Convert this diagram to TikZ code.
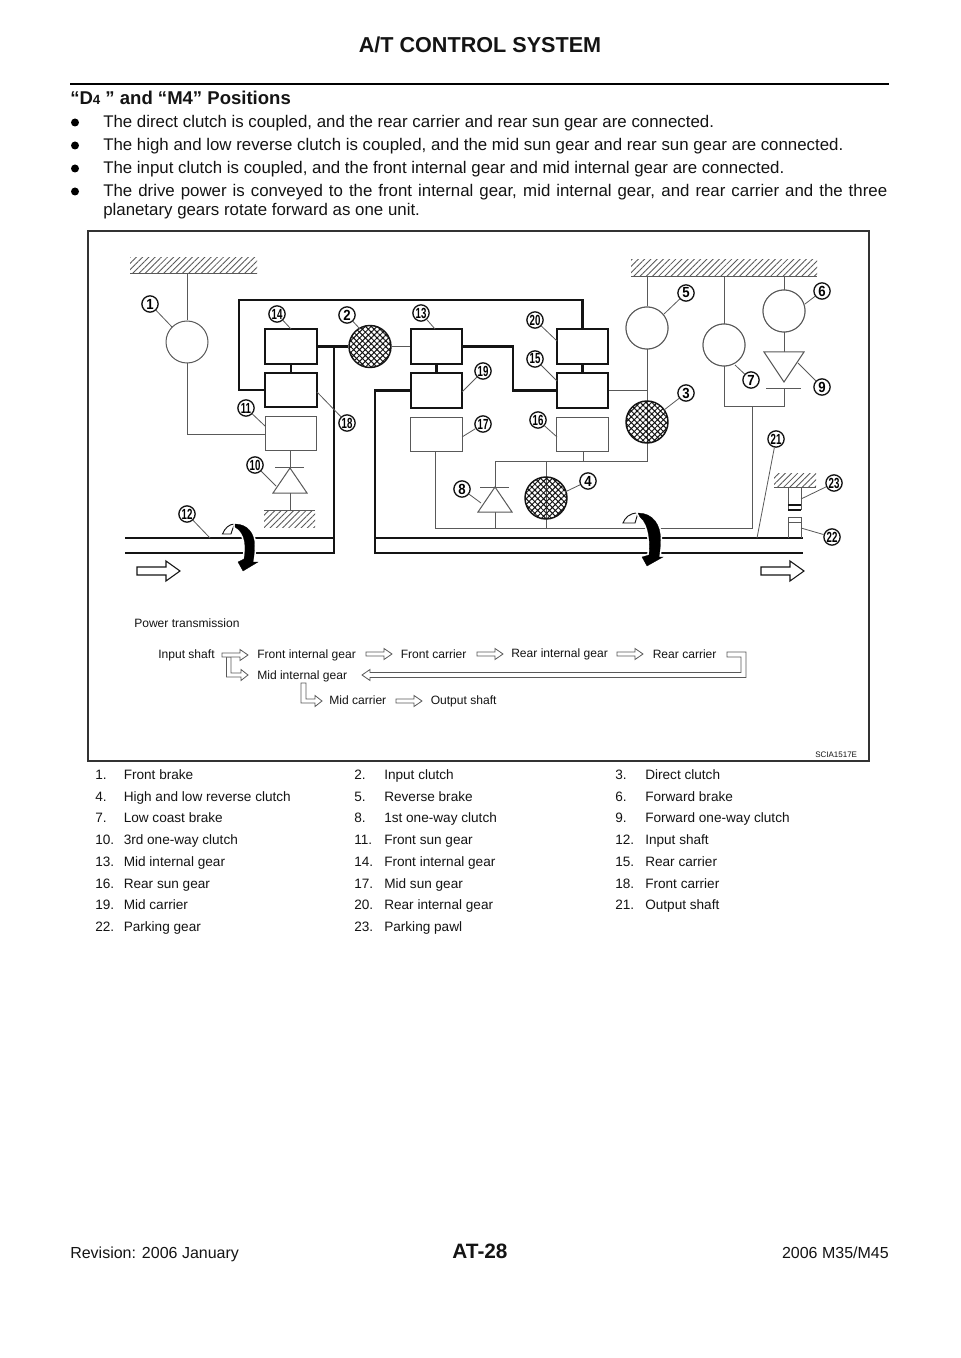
\documentclass[tikz,border=0pt]{standalone}
\usepackage{fontspec}
\setmainfont{Liberation Sans}
\usetikzlibrary{patterns.meta}
\definecolor{thin}{gray}{0.35}
\definecolor{ink}{gray}{0.08}
\definecolor{framegray}{gray}{0.2}
\newcommand{\sz}[1]{\fontsize{#1}{#1}\selectfont}
\tikzset{
  px/.style={x=0.75pt,y=-0.75pt},
  fine/.style={draw=thin,line width=0.75pt},
  heavy/.style={draw=ink,line width=1.65pt},
  shaft/.style={draw=ink,line width=1.9pt},
  gearbox/.style={heavy,fill=white,rectangle,minimum width=38.5pt,minimum height=26pt,inner sep=0pt},
  sunbox/.style={fine,fill=white,rectangle,minimum width=38.5pt,minimum height=26pt,inner sep=0pt},
  brake/.style={fine,fill=white,circle,minimum size=31.5pt,inner sep=0pt},
  clutch/.style={circle,draw=ink,line width=1.1pt,minimum size=31.5pt,inner sep=0pt,
     pattern={Hatch[angle=45,distance=3.1pt,line width=0.75pt]},pattern color=ink},
  ground/.style={pattern={Lines[angle=45,distance=3.3pt,line width=0.65pt]},pattern color=thin},
  tag/.style={circle,draw=ink,line width=1pt,fill=white,minimum size=12.2pt,inner sep=0pt,font=\bfseries\sz{11pt}},
  leader/.style={draw=thin,line width=0.6pt},
  flow/.style={draw=thin,line width=0.6pt,fill=white},
  txt/.style={anchor=base west,inner sep=0pt,text=ink},
  dia/.style={txt,font=\sz{9.05pt}},
  row/.style={txt,font=\sz{10.2pt}},
  para/.style={txt,font=\sz{12.64pt}},
  turn/.style={fill=black,draw=black,line width=0.2pt,preaction={draw=white,line width=2.6pt}},
  curl/.style={draw=ink,line width=0.7pt,fill=white},
}
% a numbered tag with its leader line to a named free end
\newcommand{\tagto}[5]{%
  \coordinate (e#1) at (#4,#5);
  \node[tag] (t#1) at (#2,#3) {\ifnum#1>9 \scalebox{0.66}[1]{#1}\else\scalebox{0.9}[1]{#1}\fi};
  \draw[leader] (t#1) -- (e#1);}
% flow arrow
\newcommand{\flowarrow}[4]{% name, x0, x1, y
  \path[flow] (#2,#4-2) -- (#3-8,#4-2) -- (#3-8,#4-5.5) -- (#3,#4) -- (#3-8,#4+5.5) -- (#3-8,#4+2) -- (#2,#4+2) -- cycle;}
% big arrow
\newcommand{\bigarrow}[3]{% x0, x1, y
  \path[draw=ink,line width=0.8pt,fill=white] (#1,#3-4) -- (#2-14,#3-4) -- (#2-14,#3-10) -- (#2,#3) -- (#2-14,#3+10) -- (#2-14,#3+4) -- (#1,#3+4) -- cycle;}
\begin{document}
\begin{tikzpicture}[px]
\useasboundingbox (0,0) rectangle (960,1358);
\fill[white] (0,0) rectangle (960,1358);
% page head
\node[anchor=base,inner sep=0pt,text=ink,font=\bfseries\sz{16.2pt}] (title) at (480,52.5) {A/T CONTROL SYSTEM};
\draw[draw=black,line width=2.2pt] (70,84) -- (889,84);
\node[txt,font=\bfseries\sz{13.9pt}] (head) at (70,104.5) {“D{\sz{10pt}4} ” and “M4” Positions};
% bullets
\foreach \yy in {122.5,145.5,168.5,191.5} \fill[black] (75,\yy) circle (4);
\node[para] (b1) at (103,128) {The direct clutch is coupled, and the rear carrier and rear sun gear are connected.};
\node[para] (b2) at (103,151) {The high and low reverse clutch is coupled, and the mid sun gear and rear sun gear are connected.};
\node[para] (b3) at (103,174) {The input clutch is coupled, and the front internal gear and mid internal gear are connected.};
\node[para] (b4) at (103,197) {\makebox[588pt][s]{The drive power is conveyed to the front internal gear, mid internal gear, and rear carrier and the three}};
\node[para] (b5) at (103,216) {planetary gears rotate forward as one unit.};
% frame
\draw[draw=framegray,line width=1.5pt] (87.5,231.5) rectangle (868.5,760.5);
% grounds
\path[ground] (130,258) rectangle (257,274);
\draw[fine] (130,274) -- (257,274);
\path[ground] (631,260) rectangle (817,277);
\draw[fine] (631,277) -- (817,277);
\path[ground] (264,510) rectangle (315,527);
\draw[fine] (264,510) -- (315,510);
\path[ground] (774,473) rectangle (816,487);
\draw[fine] (774,487) -- (816,487);
% elements
\node[brake] (c1) at (187,342) {};
\node[brake] (c5) at (647,328) {};
\node[brake] (c7) at (724,345) {};
\node[brake] (c6) at (784,311) {};
\coordinate (gA) at (187,274);
\coordinate (gB) at (647,277);
\coordinate (gC) at (724,277);
\coordinate (gD) at (784,277);
\node[sunbox] (b11) at (291,433.5) {};
\node[sunbox] (b17) at (436.5,434.5) {};
\node[sunbox] (b16) at (582.5,434.5) {};
% thin lines
\coordinate (j1) at (187,434);
\draw[fine] (gA) -- (c1) -- (j1) -- (b11.west |- j1);
\coordinate (j3) at (647,390.5);
\coordinate (j4) at (647,461);
\coordinate (j5) at (495,461);
\coordinate (j6) at (546,461);
\coordinate (j7) at (583,461);
\coordinate (j8) at (435,528);
\coordinate (j9) at (752,528);
\coordinate (j10) at (752,406);
\coordinate (j11) at (724,406);
\coordinate (j12) at (784,406);
\draw[fine] (gB) -- (c5);
\draw[fine] (c5) -- (j4) -- (j5) -- (495,487);
\draw[fine] (b16.south -| j7) -- (j7);
\draw[fine] (j6) -- (546,528);
\draw[fine] (495,512) -- (495,528);
\draw[fine] (b17.south -| j8) -- (j8) -- (j9) -- (j10);
\draw[fine] (gC) -- (j11) -- (j12) -- (784,388);
\draw[fine] (gD) -- (784,352);
\node[clutch] (c3) at (647,422) {};
\node[clutch] (c4) at (546,498) {};
\node[brake] at (c5) {};
\node[brake] at (c7) {};
\node[brake] at (c6) {};
% one-way clutches
\path[fine,fill=white] (290,468) -- (273,493) -- (307,493) -- cycle;
\draw[fine] (275,467) -- (304,467);
\draw[fine] (290,451) -- (290,467) (290,493) -- (290,510);
\path[fine,fill=white] (495,487) -- (478,512) -- (512,512) -- cycle;
\draw[fine] (480,487) -- (509,487);
\path[fine,fill=white] (784,382) -- (764,352) -- (804,352) -- cycle;
\draw[fine] (766,388) -- (801,388);
% heavy structure
\node[gearbox] (b14) at (291,346.5) {};
\node[gearbox] (b18) at (291,390) {};
\node[gearbox] (b13) at (436.5,346.5) {};
\node[gearbox] (b19) at (436.5,390.5) {};
\node[gearbox] (b20) at (582.5,346.5) {};
\node[gearbox] (b15) at (582.5,390.5) {};
\node[clutch] (c2) at (370,346.5) {};
\coordinate (k1) at (239,300);
\coordinate (k2) at (582.5,300);
\coordinate (k3) at (239,390);
\draw[heavy] (b18.west) -- (k3) -- (k1) -- (k2) -- (b20.north);
\draw[heavy] (b14) -- (b18);
\draw[heavy] (b13) -- (b19);
\draw[heavy] (b20) -- (b15);
\draw[heavy] (b14.east) -- (c2.west);
\draw[fine,line width=1pt] (c2.east) -- (b13.west);
\coordinate (k4) at (513,346.5);
\coordinate (k5) at (513,390.5);
\draw[heavy] (b13.east) -- (k4) -- (k5) -- (b15.west);
\draw[fine] (b15.east) -- (j3);
% shafts
\coordinate (s1) at (125,538);
\coordinate (s2) at (334,538);
\coordinate (s3) at (125,553);
\coordinate (s4) at (334,553);
\coordinate (s5) at (334,346.5);
\draw[shaft] (s1) -- (s2);
\draw[shaft] (s3) -- (s4) -- (s5);
\coordinate (s6) at (375,390.5);
\coordinate (s7) at (375,553);
\coordinate (s8) at (803,553);
\coordinate (s9) at (375,538);
\coordinate (s10) at (803,538);
\draw[shaft] (b19.west) -- (s6) -- (s7) -- (s8);
\draw[shaft] (s9) -- (s10);
% parking
\draw[fine] (788,487) -- (788,510) (801,487) -- (801,510);
\draw[draw=ink,line width=0.9pt] (788,505) -- (801,505);
\draw[draw=ink,line width=0.9pt] (788,510) -- (801,510);
\draw[fine] (788,538) -- (788,517) -- (801,517) -- (801,538) (788,522) -- (801,522);
% rotation arrows
\path[curl] (222.5,534) .. controls (225,528) and (229,524) .. (235,524) .. controls (233,527) and (232,531) .. (231,534) -- cycle;
\path[turn] (235,524) .. controls (247,524) and (255,533) .. (254.5,546) .. controls (254.5,552) and (254,557) .. (253,562) -- (258,562) -- (243,571) -- (238,562) -- (244,559) .. controls (246,548) and (246,533) .. (235,527) -- cycle;
\path[curl] (623,523) .. controls (625,518) and (629,513) .. (638,513) .. controls (637,516) and (636,520) .. (635,523) -- cycle;
\path[turn] (638,513) .. controls (653,513) and (661,525) .. (660.5,540) .. controls (660.5,546) and (660,551) .. (659,557) -- (663,557) -- (647,566) -- (642,557) -- (649,555) .. controls (650,545) and (650,525) .. (640,517) -- cycle;
\bigarrow{137}{180}{571}
\bigarrow{761}{804}{571}
% tags
\tagto{1}{150}{304}{172}{327}
\tagto{14}{277}{314}{291}{329}
\tagto{2}{347}{315}{360}{329}
\tagto{13}{421}{313}{435}{329}
\tagto{19}{483}{371}{462}{392}
\tagto{18}{347}{423}{317}{392}
\tagto{11}{246}{408}{265}{426}
\tagto{17}{483}{424}{462}{437}
\tagto{10}{255}{465}{276}{486}
\tagto{8}{462}{489}{481}{503}
\tagto{12}{187}{514}{210}{538}
\tagto{5}{686}{293}{664}{314}
\tagto{6}{822}{291}{805}{304}
\tagto{20}{535}{320}{557}{341}
\tagto{15}{535}{359}{557}{381}
\tagto{3}{686}{393}{664}{410}
\tagto{7}{751}{380}{735}{365}
\tagto{9}{822}{387}{798}{363}
\tagto{16}{538}{420}{557}{437}
\tagto{4}{588}{481}{565}{492}
\tagto{21}{776}{439}{757}{538}
\tagto{23}{834}{483}{801}{499}
\tagto{22}{832}{537}{801}{528}
% power flow
\node[dia] (pt) at (134,627) {Power transmission};
\node[dia] (f1) at (158,658.5) {Input shaft};
\node[dia] (f2) at (257,658) {Front internal gear};
\node[dia] (f3) at (400.5,658.5) {Front carrier};
\node[dia] (f4) at (511,657.5) {Rear internal gear};
\node[dia] (f5) at (652.5,658.5) {Rear carrier};
\node[dia] (f6) at (257,679) {Mid internal gear};
\node[dia] (f7) at (329,704.5) {Mid carrier};
\node[dia] (f8) at (430.5,704.5) {Output shaft};
\path[flow] (226.5,657) -- (226.5,677) -- (241,677) -- (241,680.5) -- (248,675) -- (241,669.5) -- (241,673) -- (231,673) -- (231,657) -- cycle;
\flowarrow{a1}{222}{248}{655}
\flowarrow{a2}{366}{392}{654}
\flowarrow{a3}{477}{503}{654}
\flowarrow{a4}{617}{643}{654}
\flowarrow{a5}{396}{422}{701}
\path[flow] (301,683) -- (301,703) -- (315,703) -- (315,706.5) -- (322,701) -- (315,695.5) -- (315,699) -- (306,699) -- (306,683) -- cycle;
\path[flow] (727,652) -- (746,652) -- (746,677.5) -- (370,677.5) -- (370,680.5) -- (362,675) -- (370,669.5) -- (370,672.5) -- (741,672.5) -- (741,657) -- (727,657) -- cycle;
\node[txt,font=\sz{6pt}] (code) at (815,757) {SCIA1517E};
% legend table
\foreach \n/\t/\xa/\xb/\y in {
1./Front brake/95/123.5/779.5, 2./Input clutch/354/384/779.5, 3./Direct clutch/615/645/779.5,
4./High and low reverse clutch/95/123.5/801.5, 5./Reverse brake/354/384/801.5, 6./Forward brake/615/645/801.5,
7./Low coast brake/95/123.5/822.5, 8./1st one-way clutch/354/384/822.5, 9./Forward one-way clutch/615/645/822.5,
10./3rd one-way clutch/95/123.5/844.5, 11./Front sun gear/354/384/844.5, 12./Input shaft/615/645/844.5,
13./Mid internal gear/95/123.5/866.5, 14./Front internal gear/354/384/866.5, 15./Rear carrier/615/645/866.5,
16./Rear sun gear/95/123.5/888.5, 17./Mid sun gear/354/384/888.5, 18./Front carrier/615/645/888.5,
19./Mid carrier/95/123.5/909.5, 20./Rear internal gear/354/384/909.5, 21./Output shaft/615/645/909.5,
22./Parking gear/95/123.5/931.5, 23./Parking pawl/354/384/931.5}{
  \node[row] at (\xa,\y) {\n};
  \node[row] at (\xb,\y) {\t};
}
% foot
\node[txt,font=\sz{12pt}] (r) at (70,1258) {Revision: 2006 January};
\node[anchor=base,inner sep=0pt,text=ink,font=\bfseries\sz{15.6pt}] (pg) at (480,1258) {AT-28};
\node[anchor=base east,inner sep=0pt,text=ink,font=\sz{12pt}] (m) at (889,1258) {2006 M35/M45};
\end{tikzpicture}
\end{document}
